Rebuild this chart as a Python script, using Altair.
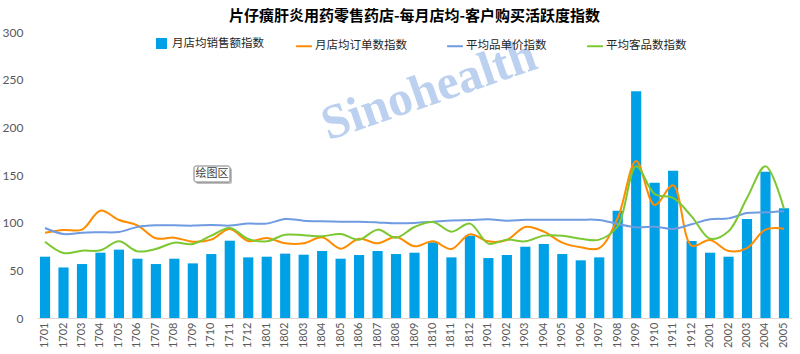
import altair as alt
import pandas as pd

months = ["1701","1702","1703","1704","1705","1706","1707","1708","1709","1710","1711","1712",
          "1801","1802","1803","1804","1805","1806","1807","1808","1809","1810","1811","1812",
          "1901","1902","1903","1904","1905","1906","1907","1908","1909","1910","1911","1912",
          "2001","2002","2003","2004","2005"]

sales = [64.3,53,56.6,68.5,71.7,62.2,56.6,62.2,57.3,67.1,81.1,63.6,
         64.3,67.5,66.4,70.3,62.2,66.1,70.3,67.1,68.5,79.4,63.6,86.4,
         62.9,66.1,74.8,77.6,67.1,60.5,63.6,112.6,237.8,142,154.5,80.8,
         68.5,64.3,103.8,153.5,115]

orders = [89.5,92.3,92.7,112.6,102.8,97.2,83.6,84.3,80,82.2,93.4,80.8,
          83.9,78.3,78.3,84.6,72.7,83.2,78.3,85,75.2,80.4,72.4,87.8,
          80.4,81.8,95.5,90.6,79,74.1,73.4,104.9,164.7,118.5,139.2,76,
          81.8,70.3,73.4,92.7,93.7]

unit_price = [94.4,88.1,89.5,89.9,90.2,95.5,97.2,97.2,96.9,97.6,96.9,99,
              99,103.8,102.1,101.4,101,101,100.3,99.3,99.7,101,102.4,102.8,
              103.5,102.1,103.1,103.1,103.1,103.1,102.8,98.6,95.1,95.8,93.4,98.3,
              103.5,104.5,110.1,110.8,111.9]

items = [80,68.2,70.6,71,80.4,69.9,72.4,79,77.6,86.4,94.4,82.9,
         80.4,87.4,86.7,85.7,88.1,82.2,92.7,84.3,95.5,100.7,90.6,99,
         78,82.2,80.4,86.4,86.4,83.2,82.2,96.2,159.1,130.1,125.9,106.6,
         83.2,90.9,125.9,159.1,114.7]

bar_name = "月店均销售额指数"
line_names = ["月店均订单数指数", "平均品单价指数", "平均客品数指数"]
line_colors = ["#ff8c00", "#6f9be0", "#7cc832"]

bar_df = pd.DataFrame({"month": months, "value": sales, "series": bar_name})
line_df = pd.concat([
    pd.DataFrame({"month": months, "value": orders, "series": line_names[0]}),
    pd.DataFrame({"month": months, "value": unit_price, "series": line_names[1]}),
    pd.DataFrame({"month": months, "value": items, "series": line_names[2]}),
])

FONT = "Noto Sans CJK SC"

x_enc = alt.X("month:O", sort=months, title=None,
              scale=alt.Scale(paddingInner=0.45, paddingOuter=0.16),
              axis=alt.Axis(labelAngle=-90, labelFont="Lato", labelFontSize=11,
                            labelColor="#595959", ticks=False, domainColor="#d9d9d9",
                            labelPadding=4, labelBaseline="middle"))
y_enc = alt.Y("value:Q", title=None,
              scale=alt.Scale(domain=[0, 300], nice=False),
              axis=alt.Axis(values=[0, 50, 100, 150, 200, 250, 300], grid=False,
                            ticks=False, domain=False, labelFont="Lato",
                            labelFontSize=12, labelColor="#595959", labelPadding=14))

bars = alt.Chart(bar_df).mark_bar(color="#00a0e6").encode(
    x=x_enc, y=y_enc,
    fill=alt.Fill("series:N", scale=alt.Scale(domain=[bar_name], range=["#00a0e6"]),
                  legend=alt.Legend(orient="none", legendX=118, legendY=5, title=None,
                                    symbolType="square", symbolSize=120,
                                    labelFont=FONT, labelFontSize=11.5, labelColor="#262626",
                                    direction="horizontal")),
)

lines = alt.Chart(line_df).mark_line(interpolate="catmull-rom", strokeWidth=2).encode(
    x=x_enc, y=y_enc,
    stroke=alt.Stroke("series:N", scale=alt.Scale(domain=line_names, range=line_colors),
                      legend=alt.Legend(orient="none", legendX=258, legendY=5, title=None,
                                        symbolType="stroke", symbolStrokeWidth=2,
                                        symbolSize=250, labelFont=FONT, labelFontSize=11.5,
                                        labelColor="#262626", direction="horizontal",
                                        columnPadding=36, labelOffset=2)),
    detail="series:N",
)

wm_df = pd.DataFrame({"t": ["Sinohealth"]})
watermark = alt.Chart(wm_df).mark_text(
    font="Liberation Serif", fontSize=49, fontWeight="bold", color="#b5cbee",
    angle=341, align="center", baseline="middle", opacity=0.9,
).encode(text="t:N", x=alt.value(392), y=alt.value(58))

box_df = pd.DataFrame({"t": ["绘图区"]})
box_shadow = alt.Chart(box_df).mark_rect(fill="#bfbfbf", cornerRadius=2).encode(
    x=alt.value(159), x2=alt.value(195), y=alt.value(136), y2=alt.value(152))
box = alt.Chart(box_df).mark_rect(fill="#ffffff", stroke="#7f7f7f", strokeWidth=1,
                                  cornerRadius=2).encode(
    x=alt.value(157), x2=alt.value(193), y=alt.value(134), y2=alt.value(150))
box_text = alt.Chart(box_df).mark_text(font=FONT, fontSize=11, color="#404040").encode(
    text="t:N", x=alt.value(175), y=alt.value(142))

chart = alt.layer(bars, lines, watermark, box_shadow, box, box_text).properties(
    width=755, height=286,
    title=alt.TitleParams("片仔癀肝炎用药零售药店-每月店均-客户购买活跃度指数",
                          font=FONT, fontSize=15, fontWeight="bold", color="#000000",
                          anchor="middle", offset=10, dy=8),
    padding={"left": 37, "top": 32, "right": 8, "bottom": 36},
    autosize="none",
).resolve_scale(color="independent").configure(background="white").configure_view(
    strokeWidth=0, stroke="transparent")

chart.save("out.html", embed_options={"renderer": "svg", "actions": False})
